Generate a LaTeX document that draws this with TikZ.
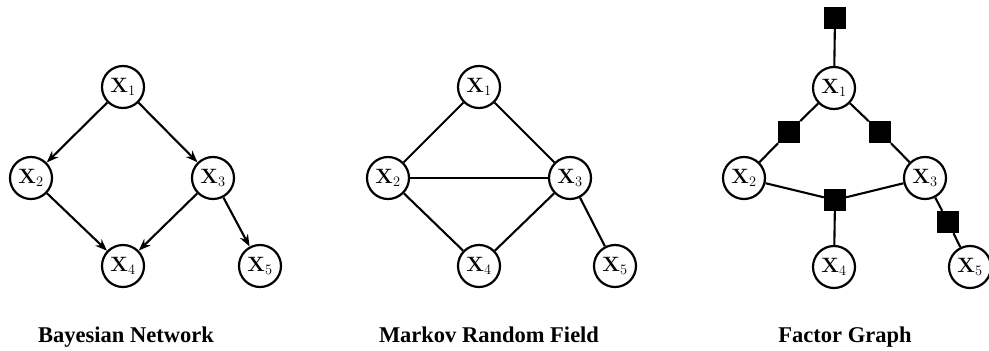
\documentclass[tikz,border=0pt]{standalone}
\usepackage[no-math]{fontspec}
\setmainfont{Liberation Serif}
\usetikzlibrary{arrows.meta}
\begin{document}
\begin{tikzpicture}[x=1pt,y=-1pt,
  var/.style={circle,draw,line width=2.2pt,minimum size=42pt,inner sep=0pt,
    font=\fontsize{22}{26}\selectfont},
  fac/.style={rectangle,fill=black,minimum size=22pt,inner sep=0pt},
  edge/.style={line width=2.1pt},
  dir/.style={edge,-{Stealth[length=12pt,width=9pt]}},
  caption/.style={font=\fontsize{22.5}{26}\selectfont\bfseries,anchor=base}]
\useasboundingbox (0,0) rectangle (989,351);

% Bayesian network
\node[var] (b1) at (123,87)  {$\mathbf{X}_1$};
\node[var] (b2) at (31,178)  {$\mathbf{X}_2$};
\node[var] (b3) at (213,178) {$\mathbf{X}_3$};
\node[var] (b4) at (123,266) {$\mathbf{X}_4$};
\node[var] (b5) at (260,266) {$\mathbf{X}_5$};
\draw[dir] (b1) -- (b2);
\draw[dir] (b1) -- (b3);
\draw[dir] (b2) -- (b4);
\draw[dir] (b3) -- (b4);
\draw[dir] (b3) -- (b5);
\node[caption] (bl) at (126,342) {Bayesian Network};

% Markov random field
\node[var] (m1) at (479,87)  {$\mathbf{X}_1$};
\node[var] (m2) at (388,178) {$\mathbf{X}_2$};
\node[var] (m3) at (570,178) {$\mathbf{X}_3$};
\node[var] (m4) at (479,266) {$\mathbf{X}_4$};
\node[var] (m5) at (615,266) {$\mathbf{X}_5$};
\draw[edge] (m1) -- (m2);
\draw[edge] (m1) -- (m3);
\draw[edge] (m2) -- (m3);
\draw[edge] (m2) -- (m4);
\draw[edge] (m3) -- (m4);
\draw[edge] (m3) -- (m5);
\node[caption] (ml) at (489,342) {Markov Random Field};

% Factor graph
\node[var] (f1) at (834,88)  {$\mathbf{X}_1$};
\node[var] (f2) at (744,178) {$\mathbf{X}_2$};
\node[var] (f3) at (925,178) {$\mathbf{X}_3$};
\node[var] (f4) at (834,267) {$\mathbf{X}_4$};
\node[var] (f5) at (970,267) {$\mathbf{X}_5$};
\node[fac] (fa) at (835,18)  {};
\node[fac] (fb) at (789,132) {};
\node[fac] (fc) at (880,132) {};
\node[fac] (fd) at (835,200) {};
\node[fac] (fe) at (948,222) {};
\draw[edge] (fa) -- (f1);
\draw[edge] (f1) -- (fb) -- (f2);
\draw[edge] (f1) -- (fc) -- (f3);
\draw[edge] (f2) -- (fd) -- (f3);
\draw[edge] (fd) -- (f4);
\draw[edge] (f3) -- (fe) -- (f5);
\node[caption] (fl) at (845,342) {Factor Graph};
\end{tikzpicture}
\end{document}
